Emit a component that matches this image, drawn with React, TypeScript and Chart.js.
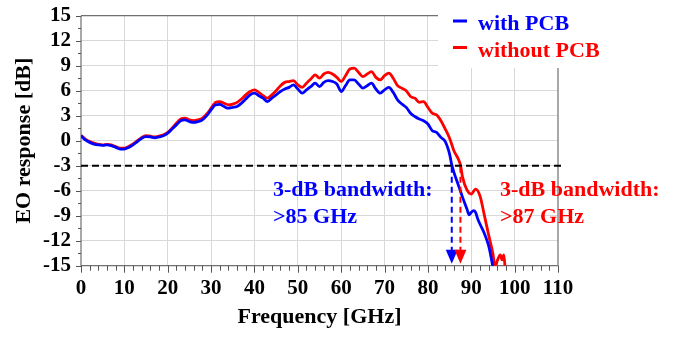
import React, { useEffect, useRef } from "react";
import { Chart, registerables } from "chart.js";

Chart.register(...registerables);

// ---- Data ----
const freqWith = [0,1,2,3,4,5,6,7,8,9,10,11,12,13,14,15,16,17,18,19,20,21,22,23,24,25,26,27,28,29,30,31,32,33,34,35,36,37,38,39,40,41,42,43,44,45,46,47,48,49,50,51,52,53,54,55,56,57,58,59,60,61,62,63,64,65,66,67,68,69,70,71,72,73,74,75,76,77,78,79,80,81,82,83,84,85,85.5,86,87,88,89,89.5,90,90.5,91,91.5,92,93,94,94.5,95,95.3];
const withPCB = [0.6,0.1,-0.2,-0.4,-0.5,-0.55,-0.5,-0.6,-0.8,-1.0,-1.0,-0.8,-0.5,-0.1,0.3,0.5,0.45,0.35,0.45,0.6,0.9,1.4,1.9,2.4,2.5,2.3,2.2,2.3,2.5,3.0,3.7,4.3,4.35,4.1,3.9,4.0,4.1,4.5,5.0,5.5,5.7,5.4,5.1,4.7,5.1,5.5,5.9,6.2,6.4,6.7,6.2,5.7,6.1,6.5,6.9,6.5,7.0,7.2,7.1,6.8,5.9,6.6,7.3,7.3,6.8,6.3,6.6,6.9,6.2,5.7,6.1,6.4,5.8,4.9,4.4,4.0,3.3,2.9,2.6,2.4,2.0,1.2,1.0,0.4,-0.1,-1.6,-2.9,-3.8,-5.3,-6.8,-8.2,-8.9,-8.6,-8.4,-8.6,-9.4,-10.0,-11.1,-12.6,-13.8,-15.2,-16];

const freqWithout = [0,1,2,3,4,5,6,7,8,9,10,11,12,13,14,15,16,17,18,19,20,21,22,23,24,25,26,27,28,29,30,31,32,33,34,35,36,37,38,39,40,41,42,43,44,45,46,47,48,49,50,51,52,53,54,55,56,57,58,59,60,61,62,63,64,65,66,67,68,69,70,71,72,73,74,75,76,77,78,79,80,81,82,83,84,85,86,87,87.5,88,89,90,91,92,93,94,95,95.5,96,96.7,97.1,97.5,97.8];
const withoutPCB = [0.65,0.2,-0.1,-0.3,-0.45,-0.5,-0.45,-0.5,-0.7,-0.9,-0.9,-0.7,-0.4,0.0,0.4,0.6,0.55,0.45,0.55,0.7,1.0,1.5,2.1,2.6,2.7,2.5,2.4,2.5,2.7,3.2,3.9,4.6,4.7,4.5,4.3,4.4,4.6,5.0,5.5,5.9,6.1,5.8,5.4,5.1,5.5,6.0,6.6,7.0,7.1,7.2,6.7,6.4,6.9,7.4,7.9,7.5,8.0,8.2,8.0,7.6,7.1,7.8,8.6,8.7,8.2,7.7,8.0,8.3,7.6,7.3,7.8,8.1,7.5,6.6,6.3,6.0,5.3,5.1,4.6,4.7,4.0,3.3,3.1,2.4,1.4,0.3,-1.2,-2.2,-2.9,-4.4,-5.9,-6.4,-5.8,-6.6,-8.9,-11.3,-13.6,-15.2,-14.4,-13.7,-14.3,-13.7,-15.2];

const xTickValues = [0, 10, 20, 30, 40, 50, 60, 70, 80, 90, 100, 110];
const yTickValues = [-15, -12, -9, -6, -3, 0, 3, 6, 9, 12, 15];
const thresholdDb = -3;
const bandwidthMarks = [85.5, 87.5];
const seriesLabels = ["with PCB", "without PCB"];
const seriesColors = ["#0000ff", "#ff0000"];
const bandwidthLabels = [">85 GHz", ">87 GHz"];

const FONT = "'Liberation Serif', 'Times New Roman', serif";

const decorPlugin = {
  id: "decor",
  beforeDatasetsDraw(chart: any) {
    const { ctx, chartArea } = chart;
    const { left, right, top, bottom } = chartArea;
    const legL = 438;
    const legB = 68;
    ctx.save();
    // white legend box over grid
    ctx.fillStyle = "#ffffff";
    ctx.fillRect(legL, 0, chart.width - legL, legB);
    // frame
    ctx.strokeStyle = "#707070";
    ctx.lineWidth = 1.2;
    ctx.beginPath();
    ctx.moveTo(left, top);
    ctx.lineTo(legL, top);
    ctx.moveTo(right, legB);
    ctx.lineTo(right, bottom);
    ctx.moveTo(left, top);
    ctx.lineTo(left, bottom);
    ctx.lineTo(right, bottom);
    ctx.stroke();
    // ticks
    const xs = chart.scales.x;
    const ys = chart.scales.y;
    ctx.strokeStyle = "#555555";
    ctx.lineWidth = 1;
    ctx.beginPath();
    for (let v = 0; v <= 110.001; v += 2) {
      const px = Math.round(xs.getPixelForValue(v)) + 0.5;
      const major = Math.abs(v % 10) < 0.001;
      ctx.moveTo(px, bottom);
      ctx.lineTo(px, bottom + (major ? 7 : 5));
    }
    for (let v = -15; v <= 15.001; v += 1.5) {
      const py = Math.round(ys.getPixelForValue(v)) + 0.5;
      const major = Math.abs(v % 3) < 0.001;
      ctx.moveTo(left, py);
      ctx.lineTo(left - (major ? 5 : 3), py);
    }
    ctx.stroke();
    ctx.restore();
  },
  afterDatasetsDraw(chart: any) {
    const { ctx, chartArea } = chart;
    const { left, bottom } = chartArea;
    const xs = chart.scales.x;
    const ys = chart.scales.y;
    ctx.save();
    // -3 dB dashed line
    const y3 = ys.getPixelForValue(thresholdDb);
    ctx.strokeStyle = "#000000";
    ctx.lineWidth = 2;
    ctx.setLineDash([7, 4]);
    ctx.beginPath();
    ctx.moveTo(left, y3);
    ctx.lineTo(xs.getPixelForValue(110) + 3, y3);
    ctx.stroke();
    // bandwidth arrows
    bandwidthMarks.forEach((f, i) => {
      const px = xs.getPixelForValue(f);
      ctx.strokeStyle = seriesColors[i];
      ctx.fillStyle = seriesColors[i];
      ctx.lineWidth = 2;
      ctx.setLineDash([6, 4]);
      ctx.beginPath();
      ctx.moveTo(px, y3 + 1);
      ctx.lineTo(px, bottom - 15);
      ctx.stroke();
      ctx.setLineDash([]);
      ctx.beginPath();
      ctx.moveTo(px - 6, bottom - 16);
      ctx.lineTo(px + 6, bottom - 16);
      ctx.lineTo(px, bottom - 2);
      ctx.closePath();
      ctx.fill();
    });
    ctx.setLineDash([]);
    // annotations
    ctx.font = `bold 22px ${FONT}`;
    ctx.textAlign = "left";
    ctx.textBaseline = "alphabetic";
    const annX = [273, 500];
    annX.forEach((x, i) => {
      ctx.fillStyle = seriesColors[i];
      ctx.fillText("3-dB bandwidth:", x, 196);
      ctx.fillText(bandwidthLabels[i], x, 223);
    });
    // legend
    seriesLabels.forEach((lab, i) => {
      const ly = 21 + i * 26.5;
      ctx.strokeStyle = seriesColors[i];
      ctx.lineWidth = 3;
      ctx.beginPath();
      ctx.moveTo(453, ly);
      ctx.lineTo(467, ly);
      ctx.stroke();
      ctx.fillStyle = seriesColors[i];
      ctx.fillText(lab, 478, ly + 9);
    });
    ctx.restore();
  },
};

export default function App() {
  const ref = useRef<HTMLCanvasElement | null>(null);
  useEffect(() => {
    if (!ref.current) return;
    const toPts = (xs: number[], ys: number[]) => xs.map((x, i) => ({ x, y: ys[i] }));
    const chart = new Chart(ref.current, {
      type: "line",
      data: {
        datasets: [
          {
            label: seriesLabels[0],
            data: toPts(freqWith, withPCB),
            borderColor: seriesColors[0],
            borderWidth: 2.8,
            pointRadius: 0,
            cubicInterpolationMode: "monotone",
            fill: false,
            order: 0,
          },
          {
            label: seriesLabels[1],
            data: toPts(freqWithout, withoutPCB),
            borderColor: seriesColors[1],
            borderWidth: 2.8,
            pointRadius: 0,
            cubicInterpolationMode: "monotone",
            fill: false,
            order: 1,
          },
        ],
      },
      options: {
        animation: false,
        responsive: false,
        devicePixelRatio: 1,
        layout: { padding: { top: 15.7, right: 127, left: 0, bottom: 0 } },
        plugins: { legend: { display: false }, tooltip: { enabled: false } },
        scales: {
          x: {
            type: "linear",
            min: 0,
            max: 110,
            afterBuildTicks: (s: any) => {
              s.ticks = xTickValues.map((v) => ({ value: v }));
            },
            afterFit: (s: any) => {
              s.height = 71.3;
              s.paddingLeft = 0;
              s.paddingRight = 0;
            },
            ticks: {
              autoSkip: false,
              maxRotation: 0,
              padding: 10,
              color: "#000000",
              font: { family: FONT, size: 21, weight: "bold" },
            },
            grid: {
              drawTicks: false,
              color: (c: any) => (c.tick && (c.tick.value === 0 || c.tick.value === 110) ? "rgba(0,0,0,0)" : "#d8d8d8"),
              lineWidth: 1,
            },
            border: { display: false },
            title: {
              display: true,
              text: "Frequency [GHz]",
              color: "#000000",
              font: { family: FONT, size: 22, weight: "bold" },
              padding: { top: 0, bottom: 6 },
            },
          },
          y: {
            type: "linear",
            min: -15,
            max: 15,
            afterBuildTicks: (s: any) => {
              s.ticks = yTickValues.map((v) => ({ value: v }));
            },
            afterFit: (s: any) => {
              s.width = 81;
              s.paddingTop = 0;
              s.paddingBottom = 0;
            },
            ticks: {
              autoSkip: false,
              padding: 10,
              color: "#000000",
              font: { family: FONT, size: 21, weight: "bold" },
            },
            grid: {
              drawTicks: false,
              color: (c: any) => (c.tick && (c.tick.value === -15 || c.tick.value === 15) ? "rgba(0,0,0,0)" : "#d8d8d8"),
              lineWidth: 1,
            },
            border: { display: false },
            title: {
              display: true,
              text: "EO response [dB]",
              color: "#000000",
              font: { family: FONT, size: 22, weight: "bold" },
              padding: { top: 11, bottom: 0 },
            },
          },
        },
      } as any,
      plugins: [decorPlugin],
    });
    return () => chart.destroy();
  }, []);
  return (
    <div style={{ position: "fixed", left: 0, top: 0, width: 685, height: 337, background: "#ffffff" }}>
      <canvas ref={ref} width={685} height={337} style={{ width: 685, height: 337, display: "block" }} />
    </div>
  );
}
